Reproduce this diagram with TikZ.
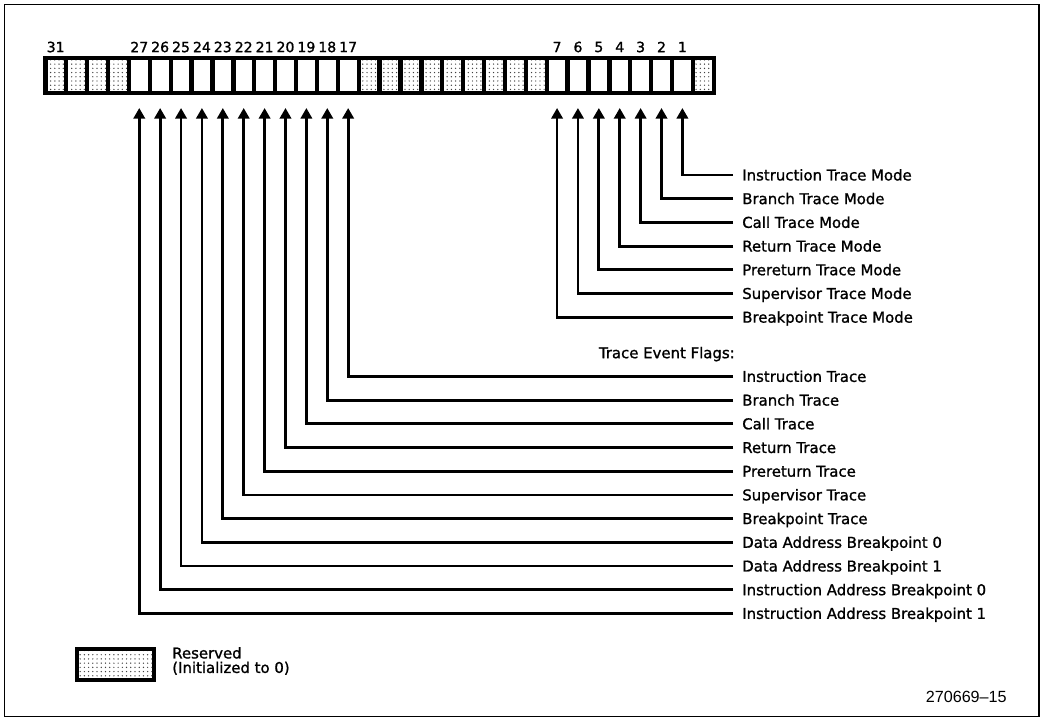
\documentclass[tikz,border=0pt]{standalone}
\usepackage{fontspec}
\setmainfont{DejaVu Sans}[FakeBold=1.2]
\newfontfamily\idfont{Liberation Sans}
\usetikzlibrary{arrows.meta,patterns}

\tikzset{
  regbit/.style={fill=white},
  resbit/.style={fill=white, postaction={pattern=dots, pattern color=black!75}},
  bitnum/.style={font=\fontsize{10}{10}\selectfont, inner sep=0pt},
  flaglabel/.style={font=\fontsize{10.6}{12}\selectfont, anchor=west,
    inner xsep=6.4pt, inner ysep=0pt, text height=7.7pt, text depth=0pt},
  flagline/.style={line width=2pt, -{Triangle[width=8pt,length=7.5pt]}}
}

\begin{document}
\begin{tikzpicture}[x=0.025cm,y=-0.025cm]

\useasboundingbox (0,0) rectangle (1044,718);

% Cadre
\draw[line width=1.1pt] (4.5,4.5) rectangle (1039,716.5);

% Registre
\fill (43,56) rectangle (716,95);

\foreach \i in {0,1,2,3,15,16,17,18,19,20,21,22,23,31}
  \path[resbit] ({47.5+20.89*\i},60) rectangle ++(16.6,31);
\foreach \i in {4,5,6,7,8,9,10,11,12,13,14,24,25,26,27,28,29,30}
  \path[regbit] ({47.5+20.89*\i},60) rectangle ++(16.6,31);

% Numeros de bits
\foreach \b in {31,27,26,25,24,23,22,21,20,19,18,17,7,6,5,4,3,2,1}
  \node[bitnum] (n\b) at ({55.7+20.89*(31-\b)},47) {\b};

% Pointes des fleches
\foreach \b in {1,2,3,4,5,6,7,17,18,19,20,21,22,23,24,25,26,27}
  \coordinate (t\b) at ({55.7+20.89*(31-\b)},108);

% Trace Mode
\node[flaglabel] (m1) at (733,175.0) {Instruction Trace Mode};
\node[flaglabel] (m2) at (733,198.7) {Branch Trace Mode};
\node[flaglabel] (m3) at (733,222.4) {Call Trace Mode};
\node[flaglabel] (m4) at (733,246.1) {Return Trace Mode};
\node[flaglabel] (m5) at (733,269.8) {Prereturn Trace Mode};
\node[flaglabel] (m6) at (733,293.5) {Supervisor Trace Mode};
\node[flaglabel] (m7) at (733,317.2) {Breakpoint Trace Mode};

% Trace Event Flags
\node[flaglabel, anchor=east, inner xsep=0pt] (hdr) at (735,352.75) {Trace Event Flags:};

\node[flaglabel] (f17) at (733,376.45) {Instruction Trace};
\node[flaglabel] (f18) at (733,400.15) {Branch Trace};
\node[flaglabel] (f19) at (733,423.85) {Call Trace};
\node[flaglabel] (f20) at (733,447.55) {Return Trace};
\node[flaglabel] (f21) at (733,471.25) {Prereturn Trace};
\node[flaglabel] (f22) at (733,494.95) {Supervisor Trace};
\node[flaglabel] (f23) at (733,518.65) {Breakpoint Trace};
\node[flaglabel] (f24) at (733,542.35) {Data Address Breakpoint 0};
\node[flaglabel] (f25) at (733,566.05) {Data Address Breakpoint 1};
\node[flaglabel] (f26) at (733,589.75) {Instruction Address Breakpoint 0};
\node[flaglabel] (f27) at (733,613.45) {Instruction Address Breakpoint 1};

% Liaisons
\foreach \b in {1,2,3,4,5,6,7}
  \draw[flagline] (m\b.west) -| (t\b);
\foreach \b in {17,18,19,20,21,22,23,24,25,26,27}
  \draw[flagline] (f\b.west) -| (t\b);

% Legende
\fill (75,647) rectangle (156,682);
\path[resbit] (79,651) rectangle (152,678);
\node[flaglabel, inner xsep=0pt] (rsv1) at (172,653) {Reserved};
\node[flaglabel, inner xsep=0pt] (rsv2) at (172,667.5) {(Initialized to 0)};

\node[anchor=east, inner sep=0pt, font=\idfont\fontsize{11.5}{12}\selectfont] (fig) at (1007,697) {270669–15};

\end{tikzpicture}
\end{document}
